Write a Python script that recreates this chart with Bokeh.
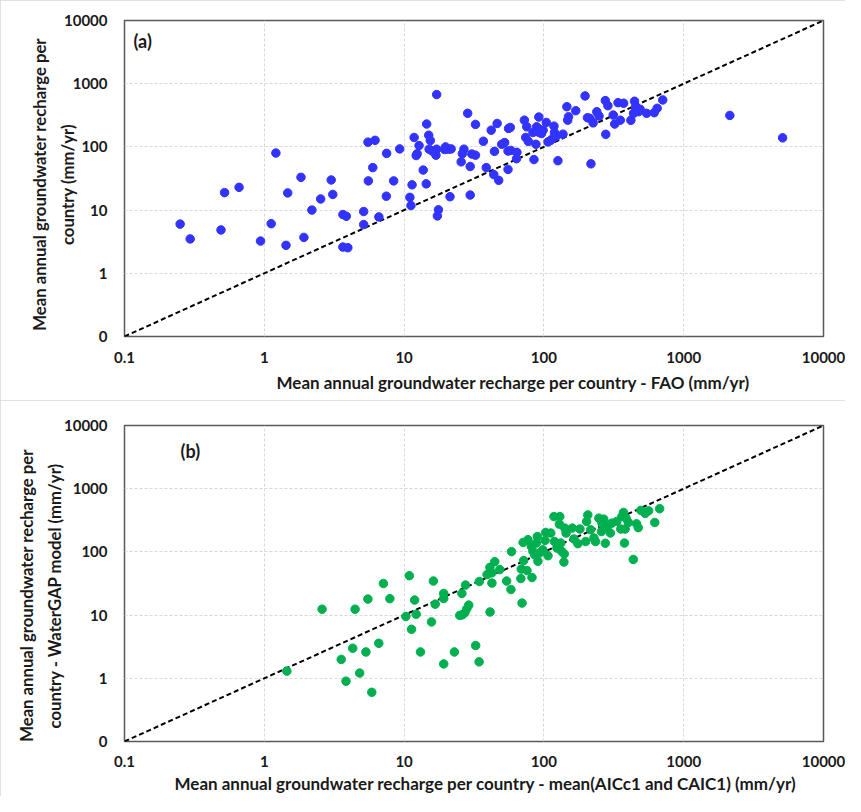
from bokeh.plotting import figure
from bokeh.models import Range1d, FixedTicker, Label, Title
from bokeh.layouts import column
from bokeh.embed import file_html
from bokeh.resources import INLINE

# ---- data -------------------------------------------------------------
tick_values = [0.1, 1, 10, 100, 1000, 10000]
x_tick_labels = ["0.1", "1", "10", "100", "1000", "10000"]
y_tick_labels = ["0", "1", "10", "100", "1000", "10000"]
diag = [0.1, 10000]

# panel (a): FAO recharge (x) vs model recharge (y), mm/yr
fao_x = [0.25, 0.295, 0.52, 0.66, 0.49, 0.94, 1.12, 1.47, 1.43, 1.83,
         1.92, 2.19, 2.53, 3.01, 3.09, 3.65, 3.86, 3.65, 3.96, 5.14,
         5.14, 6.6, 7.46, 5.55, 8.42, 11.0, 11.2, 11.4, 1.21, 5.52,
         6.2, 7.5, 9.3, 5.97, 11.8, 12.4, 12.2, 12.8, 13.7, 14.4,
         14.5, 15.0, 15.4, 17.1, 15.1, 15.9, 17.1, 16.9, 16.6, 17.6,
         17.3, 19.8, 20.8, 21.3, 19.5, 21.7, 28.5, 29.7, 32.4, 26.8,
         26.1, 25.6, 29.7, 30.5, 32.4, 36.9, 38.7, 42, 46.3, 44.3,
         43.8, 47.5, 49.9, 52.4, 55.4, 58.1, 64.1, 55.4, 55.9, 57.5,
         63.7, 72.5, 75.4, 74.1, 77.4, 84.9, 87.7, 83.5, 92, 88.7,
         93.6, 96.2, 98.7, 92.5, 104, 107, 112, 116, 118, 119,
         123, 126, 137, 146, 150, 148, 169, 197, 205, 213,
         217, 225, 239, 248, 275, 287, 277, 313, 321, 352,
         339, 372, 419, 445, 452, 457, 475, 438, 488, 543,
         615, 646, 708, 2138, 5100]
model_y_a = [6.0, 3.5, 18.9, 22.9, 4.85, 3.24, 6.1, 18.7, 2.77, 33,
             3.7, 10, 15, 30, 17.7, 8.5, 8.0, 2.6, 2.54, 9.5,
             5.9, 7.8, 16.6, 29, 29, 15.9, 11.8, 25.1, 80, 119,
             127, 79, 93, 47, 141, 78, 73, 105, 43, 26,
             230, 153, 126, 673, 92, 86, 92, 74, 81, 10.1,
             8.1, 100, 92, 16.3, 91, 93, 340, 17.3, 227, 92,
             78, 58, 49, 77, 74, 123, 47, 184, 235, 85,
             36.5, 29.6, 110, 117, 86, 88, 82, 44, 196, 203,
             65, 265, 208, 141, 122, 63, 110, 169, 297, 208,
             189, 163, 184, 169, 244, 120, 127, 136, 213, 169,
             148, 60.5, 159, 433, 300, 265, 374, 641, 289, 283,
             54, 240, 360, 308, 540, 449, 158, 319, 230, 265,
             501, 491, 263, 528, 433, 384, 361, 340, 394, 340,
             348, 408, 553, 315, 139]

# panel (b): mean(AICc1 and CAIC1) recharge (x) vs WaterGAP (y), mm/yr
aic_x = [1.45, 2.59, 3.55, 3.84, 4.29, 4.46, 4.81, 5.33, 5.51, 5.87,
         6.59, 7.11, 7.91, 10.3, 10.9, 11.3, 11.9, 12.2, 13.1, 15.7,
         16.2, 16.7, 19.2, 19.2, 19.2, 22.9, 25.0, 26.1, 27.2, 28.1,
         29.0, 25.9, 27.5, 32.5, 34.4, 34.5, 41.2, 41.1, 42.4, 44.5,
         42.5, 48.4, 39.2, 54.1, 58.1, 58.7, 69.8, 68.4, 68.9, 71.7,
         75.7, 82.2, 71, 76.9, 81.3, 83.5, 85.9, 88.3, 89.7, 90.6,
         93.1, 98.2, 103, 102, 107, 112, 118, 130, 129, 119,
         124, 132, 134, 140, 139, 144, 141, 160, 164, 175,
         181, 199, 206, 202, 216, 228, 234, 247, 260, 268,
         258, 275, 283, 299, 306, 332, 355, 371, 387, 381,
         402, 361, 377, 436, 460, 473, 494, 530, 561, 621, 673]
watergap_y = [1.30, 12.4, 1.99, 0.90, 2.99, 12.4, 1.21, 2.61, 17.9, 0.60,
              3.58, 31.6, 18.2, 9.5, 42, 5.96, 17.3, 10.3, 2.61, 7.8,
              34.6, 14.9, 22, 18.3, 1.69, 2.61, 9.9, 10.1, 10.9, 12.6,
              14.4, 22, 29.9, 3.30, 1.82, 34, 11.2, 57, 46.6, 70,
              32.1, 52.5, 43.8, 34.6, 25.4, 101, 15.5, 37.8, 53.5, 72.8,
              50.6, 39.3, 141, 156, 122, 102, 90, 138, 175, 71,
              96, 108, 203, 152, 87, 199, 362, 362, 275, 146,
              115, 138, 102, 93, 69, 199, 238, 238, 160, 135,
              230, 146, 385, 303, 224, 166, 146, 342, 285, 330,
              210, 137, 247, 199, 285, 303, 230, 422, 342, 230,
              292, 362, 138, 76, 278, 242, 454, 407, 446, 292, 483]

ylabel_a = ["Mean annual groundwater recharge per", "country (mm/yr)"]
ylabel_b = ["Mean annual groundwater recharge per", "country - WaterGAP model (mm/yr)"]
xlabel_a = "Mean annual groundwater recharge per country - FAO (mm/yr)"
xlabel_b = "Mean annual groundwater recharge per country - mean(AICc1 and CAIC1)  (mm/yr)"

FONT = "Lato"
TXT = "#1a1a1a"
NB = "\u00a0"


def make_panel(xs, ys, color, tag, tag_pos, ylab, ylab_standoff, ylab_pad,
               xlab, xlab_offset, xlab_standoff, xtick_standoff,
               width, height, borders):
    left, right, top, bottom = borders
    p = figure(width=width, height=height, x_axis_type="log", y_axis_type="log",
               x_range=Range1d(0.1, 10000), y_range=Range1d(0.1, 10000),
               output_backend="svg", toolbar_location=None,
               min_border_left=left, min_border_right=right,
               min_border_top=top, min_border_bottom=bottom)
    p.styles = {"outline": "1px solid #d9d9d9", "outline-offset": "-1px"}
    p.background_fill_color = "white"
    p.border_fill_color = "white"
    p.outline_line_color = "#595959"
    p.outline_line_width = 1.5

    for ax, labels in ((p.xaxis[0], x_tick_labels), (p.yaxis[0], y_tick_labels)):
        ax.ticker = FixedTicker(ticks=tick_values, minor_ticks=[])
        ax.major_label_overrides = dict(zip(tick_values, labels))
        ax.axis_line_color = None
        ax.major_tick_line_color = None
        ax.minor_tick_line_color = None
        ax.major_tick_out = 0
        ax.major_tick_in = 0
        ax.major_label_text_font = FONT
        ax.major_label_text_font_style = "bold"
        ax.major_label_text_font_size = "15px"
        ax.major_label_text_color = TXT
    p.xaxis.major_label_standoff = xtick_standoff
    p.yaxis.major_label_standoff = 17

    yax = p.yaxis[0]
    yax.axis_label = "\n".join(line + NB * ylab_pad for line in ylab)
    yax.axis_label_text_font = FONT
    yax.axis_label_text_font_style = "bold"
    yax.axis_label_text_font_size = "16.7px"
    yax.axis_label_text_color = TXT
    yax.axis_label_text_line_height = 1.42
    yax.axis_label_standoff = ylab_standoff

    p.add_layout(Title(text=xlab, align="left", offset=xlab_offset, standoff=xlab_standoff,
                       text_font=FONT, text_font_style="bold", text_font_size="17px",
                       text_color=TXT), "below")

    for g in (p.xgrid[0], p.ygrid[0]):
        g.grid_line_color = "#d9d9d9"
        g.grid_line_dash = "3 2"
        g.grid_line_width = 1

    p.line(diag, diag, line_color="black", line_width=2, line_dash="5 3")
    p.scatter(xs, ys, size=8.5, fill_color=color, line_color=color)

    p.add_layout(Label(x=tag_pos[0], y=tag_pos[1], x_units="screen", y_units="screen",
                       text=tag, text_font=FONT, text_font_style="bold",
                       text_font_size="18px", text_color=TXT,
                       text_align="left", text_baseline="middle"))
    return p


p1 = make_panel(fao_x, model_y_a, "#3333ff", "(a)", (9, 296),
                ylabel_a, -17, 3,
                xlabel_a, 152, 8, 15,
                845, 400, (118, 22, 20, 64))
p2 = make_panel(aic_x, watergap_y, "#00b050", "(b)", (56, 291),
                ylabel_b, -4, 6,
                xlabel_b, 50, 2, 14,
                845, 396, (124, 22, 25, 55))

layout = column(p1, p2, spacing=0)
open("out.html", "w").write(file_html(layout, INLINE))
